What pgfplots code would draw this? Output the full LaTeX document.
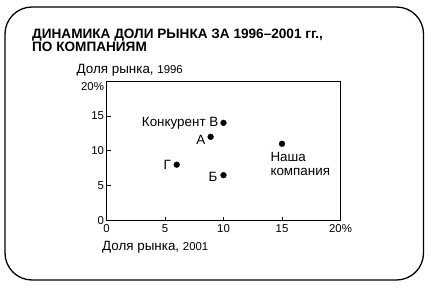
\documentclass[border=0pt]{standalone}
\usepackage{fontspec}
\setmainfont{Liberation Sans}
\usepackage{pgfplots}
\pgfplotsset{compat=1.18}
\begin{document}
\begin{tikzpicture}[x=1pt,y=1pt]
\path[use as bounding box] (0,0) rectangle (430,-286);
\draw[line width=1.3pt, rounded corners=27pt] (5,-7) rectangle (423.5,-280);
\node[anchor=base west, inner sep=0pt, font=\bfseries\fontsize{13.6}{14}\selectfont] at (32,-38.3) {ДИНАМИКА ДОЛИ РЫНКА ЗА 1996–2001 гг.,};
\node[anchor=base west, inner sep=0pt, font=\bfseries\fontsize{13.6}{14}\selectfont] at (32,-51.5) {ПО КОМПАНИЯМ};
\node[anchor=base west, inner sep=0pt, font=\fontsize{13.4}{14}\selectfont] at (76.5,-74) {Доля рынка, {\fontsize{11.4}{12}\selectfont 1996}};
\node[anchor=base west, inner sep=0pt, font=\fontsize{13.4}{14}\selectfont] at (102,-250) {Доля рынка, {\fontsize{11.4}{12}\selectfont 2001}};
\begin{axis}[
  at={(106.5pt,-220.5pt)}, anchor=south west,
  scale only axis, width=234pt, height=139.5pt,
  xmin=0, xmax=20, ymin=0, ymax=20,
  xtick={0,5,10,15,20}, ytick={0,5,10,15,20},
  xticklabels={0,5,10,15,20\%}, yticklabels={0,5,10,15,\raisebox{-9pt}[0pt][0pt]{20\%}},
  tick pos=left, tick align=inside,
  major tick length=4pt,
  axis line style={line width=0.8pt},
  tick style={line width=0.6pt, black},
  ticklabel style={font=\fontsize{11.4}{12}\selectfont},
  /pgf/number format/assume math mode=true,
  xticklabel style={yshift=-0.5pt},
  yticklabel style={xshift=1pt},
  clip=false,
]
\addplot[only marks, mark=*, mark size=2.9pt, black] coordinates {
  (10,14) (8.9,12) (6,8) (10,6.5) (15,11)
};
\node[anchor=east, inner sep=0pt, font=\fontsize{13.4}{14}\selectfont, xshift=-5pt] at (axis cs:10,14) {Конкурент В};
\node[anchor=east, inner sep=0pt, font=\fontsize{13.4}{14}\selectfont, xshift=-5pt, yshift=-3pt] at (axis cs:8.9,12) {А};
\node[anchor=east, inner sep=0pt, font=\fontsize{13.4}{14}\selectfont, xshift=-5.5pt, yshift=-0.5pt] at (axis cs:6,8) {Г};
\node[anchor=east, inner sep=0pt, font=\fontsize{13.4}{14}\selectfont, xshift=-6pt, yshift=-1.5pt] at (axis cs:10,6.5) {Б};
\node[anchor=base west, inner sep=0pt, font=\fontsize{13.4}{14}\selectfont, xshift=-11.7pt, yshift=-18pt] at (axis cs:15,11) {Наша};
\node[anchor=base west, inner sep=0pt, font=\fontsize{13.4}{14}\selectfont, xshift=-11.7pt, yshift=-31.5pt] at (axis cs:15,11) {компания};
\end{axis}
\end{tikzpicture}
\end{document}
